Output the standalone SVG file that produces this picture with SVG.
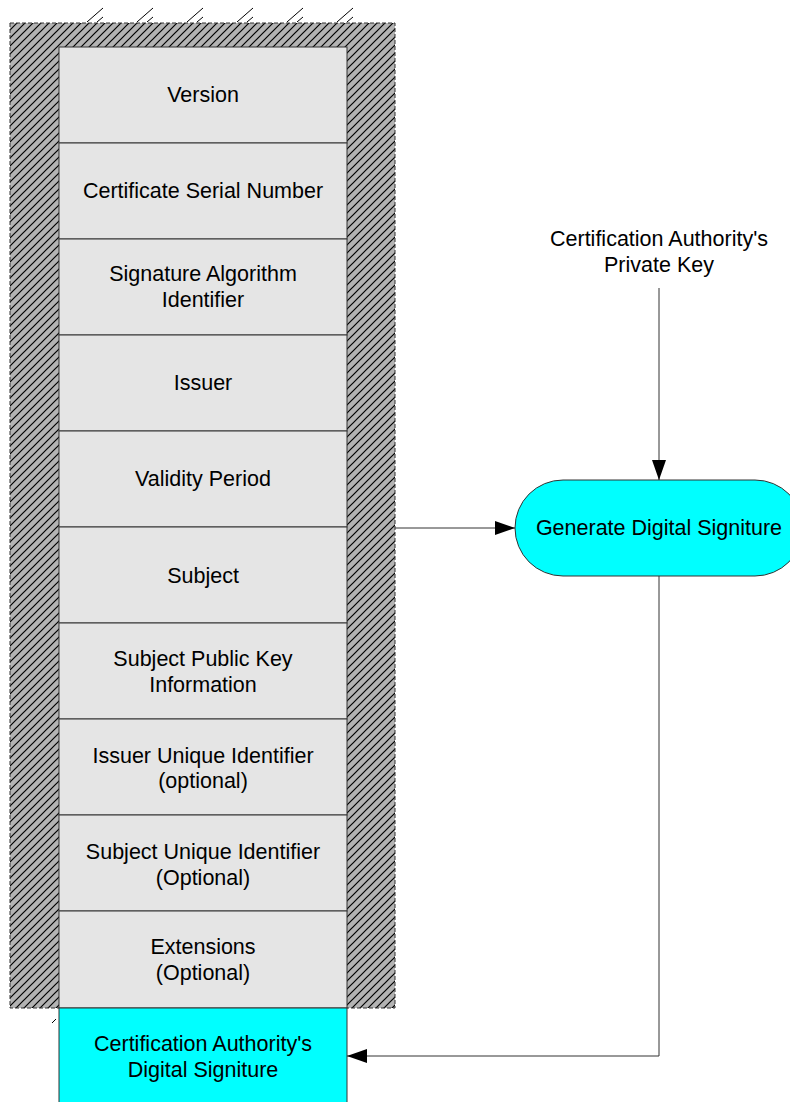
<svg xmlns="http://www.w3.org/2000/svg" width="790" height="1102" viewBox="0 0 790 1102">
<style>
text{font-family:"Liberation Sans",Arial,sans-serif;font-size:21.5px;fill:#000;text-anchor:middle}
.field{fill:#e5e5e5;stroke:#333;stroke-width:1}
.cyan{fill:#00ffff;stroke:#333;stroke-width:1}
.conn{fill:none;stroke:#333;stroke-width:1}
.mark{stroke:#000;stroke-width:1}
</style>
<defs>
<pattern id="hatch" patternUnits="userSpaceOnUse" width="8" height="8">
<rect width="8" height="8" fill="#b3b3b3"/>
<path d="M-2,2 L2,-2 M0,8 L8,0 M6,10 L10,6" stroke="#000" stroke-width="1.2"/>
</pattern>
<marker id="arrow" viewBox="0 0 20 14" refX="20" refY="7" markerWidth="20" markerHeight="14" markerUnits="userSpaceOnUse" orient="auto">
<path d="M0,0 L20,7 L0,14 Z" fill="#000"/>
</marker>
</defs>
<g id="wall">
<rect x="10" y="23" width="385" height="985" fill="url(#hatch)" stroke="#333" stroke-dasharray="4,2"/>
<g class="mark">
<line x1="87" y1="22" x2="103" y2="8"/><line x1="97" y1="22" x2="103" y2="17"/>
<line x1="137" y1="22" x2="153" y2="8"/><line x1="147" y1="22" x2="153" y2="17"/>
<line x1="187" y1="22" x2="203" y2="8"/><line x1="197" y1="22" x2="203" y2="17"/>
<line x1="237" y1="22" x2="253" y2="8"/><line x1="247" y1="22" x2="253" y2="17"/>
<line x1="287" y1="22" x2="303" y2="8"/><line x1="297" y1="22" x2="303" y2="17"/>
<line x1="337" y1="22" x2="353" y2="8"/><line x1="347" y1="22" x2="353" y2="17"/>
<line x1="52" y1="1023" x2="56" y2="1019"/>
</g>
</g>
<g id="version"><rect class="field" x="59" y="47" width="288" height="96"/><text x="203" y="102">Version</text></g>
<g id="serial"><rect class="field" x="59" y="143" width="288" height="96"/><text x="203" y="198">Certificate Serial Number</text></g>
<g id="sigalg"><rect class="field" x="59" y="239" width="288" height="96"/><text x="203" y="281">Signature Algorithm</text><text x="203" y="307">Identifier</text></g>
<g id="issuer"><rect class="field" x="59" y="335" width="288" height="96"/><text x="203" y="390">Issuer</text></g>
<g id="validity"><rect class="field" x="59" y="431" width="288" height="96"/><text x="203" y="486">Validity Period</text></g>
<g id="subject"><rect class="field" x="59" y="527" width="288" height="96"/><text x="203" y="583">Subject</text></g>
<g id="spki"><rect class="field" x="59" y="623" width="288" height="96"/><text x="203" y="666">Subject Public Key</text><text x="203" y="692">Information</text></g>
<g id="issuerUID"><rect class="field" x="59" y="719" width="288" height="96"/><text x="203" y="763">Issuer Unique Identifier</text><text x="203" y="788">(optional)</text></g>
<g id="subjectUID"><rect class="field" x="59" y="815" width="288" height="96"/><text x="203" y="859">Subject Unique Identifier</text><text x="203" y="885">(Optional)</text></g>
<g id="extensions"><rect class="field" x="59" y="911" width="288" height="97"/><text x="203" y="954">Extensions</text><text x="203" y="980">(Optional)</text></g>
<g id="casig"><rect class="cyan" x="59" y="1008" width="288" height="100"/><text x="203" y="1051">Certification Authority's</text><text x="203" y="1077">Digital Signiture</text></g>
<g id="privkey"><text x="659" y="246">Certification Authority's</text><text x="659" y="272">Private Key</text></g>
<g id="generate"><rect class="cyan" x="515" y="480" width="288" height="96" rx="48" ry="48"/><text x="659" y="535">Generate Digital Signiture</text></g>
<g id="connectors">
<line class="conn" x1="659" y1="288" x2="659" y2="480" marker-end="url(#arrow)"/>
<line class="conn" x1="395" y1="528" x2="515" y2="528" marker-end="url(#arrow)"/>
<polyline class="conn" points="659,576 659,1056 347,1056" marker-end="url(#arrow)"/>
</g>
</svg>
